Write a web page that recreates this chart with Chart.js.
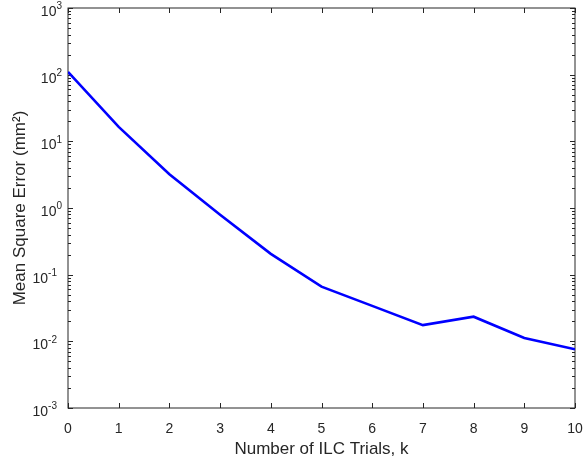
<!DOCTYPE html>
<html>
<head>
<meta charset="utf-8">
<script src="https://cdn.jsdelivr.net/npm/chart.js@4.4.1/dist/chart.umd.min.js"></script>
<style>
  html, body { margin: 0; padding: 0; background: #ffffff; }
</style>
</head>
<body>
<canvas id="mseChart" width="583" height="463"></canvas>
<script>
// data
const trials = [0, 1, 2, 3, 4, 5, 6, 7, 8, 9, 10];
const mse = [110, 16.5, 3.2, 0.79, 0.205, 0.066, 0.034, 0.0175, 0.0234, 0.0112, 0.0076];
const xTicks = [0, 1, 2, 3, 4, 5, 6, 7, 8, 9, 10];
const yExponents = [-3, -2, -1, 0, 1, 2, 3];

const axisColor = '#262626';
const fontFamily = '"Liberation Sans", Arial, Helvetica, sans-serif';

// box, inward ticks and 10^n labels drawn the MATLAB way
const matlabAxes = {
    id: 'matlabAxes',
    beforeDatasetsDraw(chart) {
        const { ctx, chartArea: a, scales: { x, y } } = chart;
        ctx.save();
        ctx.strokeStyle = axisColor;
        ctx.lineWidth = 1;
        ctx.strokeRect(a.left, a.top, a.right - a.left, a.bottom - a.top);

        ctx.beginPath();
        xTicks.forEach(v => {
            const px = Math.round(x.getPixelForValue(v)) + 0.5;
            ctx.moveTo(px, a.bottom); ctx.lineTo(px, a.bottom - 5);
            ctx.moveTo(px, a.top); ctx.lineTo(px, a.top + 5);
        });
        yExponents.forEach((e, i) => {
            const py = Math.round(y.getPixelForValue(Math.pow(10, e))) + 0.5;
            ctx.moveTo(a.left, py); ctx.lineTo(a.left + 5, py);
            ctx.moveTo(a.right, py); ctx.lineTo(a.right - 5, py);
            if (i < yExponents.length - 1) {
                for (let m = 2; m <= 9; m++) {
                    const my = Math.round(y.getPixelForValue(m * Math.pow(10, e))) + 0.5;
                    ctx.moveTo(a.left, my); ctx.lineTo(a.left + 3, my);
                    ctx.moveTo(a.right, my); ctx.lineTo(a.right - 3, my);
                }
            }
        });
        ctx.stroke();
        ctx.restore();
    },
    afterDraw(chart) {
        const { ctx, scales: { y } } = chart;
        ctx.save();
        ctx.fillStyle = axisColor;
        ctx.textBaseline = 'middle';
        ctx.textAlign = 'left';
        yExponents.forEach(e => {
            const py = y.getPixelForValue(Math.pow(10, e));
            const sup = e < 0 ? '-' + Math.abs(e) : String(e);
            ctx.font = '14px ' + fontFamily;
            const wBase = ctx.measureText('10').width;
            ctx.font = '10px ' + fontFamily;
            const wSup = ctx.measureText(sup).width;
            const right = e < 0 ? 57 : 62;
            const x0 = right - wSup - wBase;
            ctx.font = '14px ' + fontFamily;
            ctx.fillText('10', x0, py + 4);
            ctx.font = '10px ' + fontFamily;
            ctx.fillText(sup, x0 + wBase, py - 1.5);
        });
        ctx.restore();
    }
};

const ctx = document.getElementById('mseChart').getContext('2d');
const mseChart = new Chart(ctx, {
    type: 'line',
    data: {
        labels: trials,
        datasets: [{
            label: 'MSE',
            data: trials.map((k, i) => ({ x: k, y: mse[i] })),
            borderColor: '#0000ff',
            borderWidth: 2.6,
            pointRadius: 0,
            tension: 0,
            fill: false
        }]
    },
    options: {
        responsive: false,
        animation: false,
        layout: { padding: { top: 8, right: 0, left: 0, bottom: 0 } },
        plugins: {
            legend: { display: false },
            tooltip: { enabled: false }
        },
        scales: {
            x: {
                type: 'linear',
                min: 0,
                max: 10,
                grid: { display: false, drawTicks: false },
                border: { display: false },
                ticks: {
                    stepSize: 1,
                    color: axisColor,
                    padding: 13,
                    maxRotation: 0,
                    font: { family: fontFamily, size: 14 }
                },
                title: {
                    display: true,
                    text: 'Number of ILC Trials, k',
                    color: axisColor,
                    font: { family: fontFamily, size: 17 },
                    padding: { top: 0, bottom: 3 }
                },
                afterFit(scale) {
                    scale.height = 55;
                    scale.paddingLeft = 0;
                    scale.paddingRight = 8;
                }
            },
            y: {
                type: 'logarithmic',
                min: 0.001,
                max: 1000,
                grid: { display: false, drawTicks: false },
                border: { display: false },
                ticks: { display: false },
                title: {
                    display: true,
                    text: 'Mean Square Error (mm²)',
                    color: axisColor,
                    font: { family: fontFamily, size: 17 },
                    padding: { top: 10, bottom: 0 }
                },
                afterFit(scale) { scale.width = 68; }
            }
        }
    },
    plugins: [matlabAxes]
});
</script>
</body>
</html>
